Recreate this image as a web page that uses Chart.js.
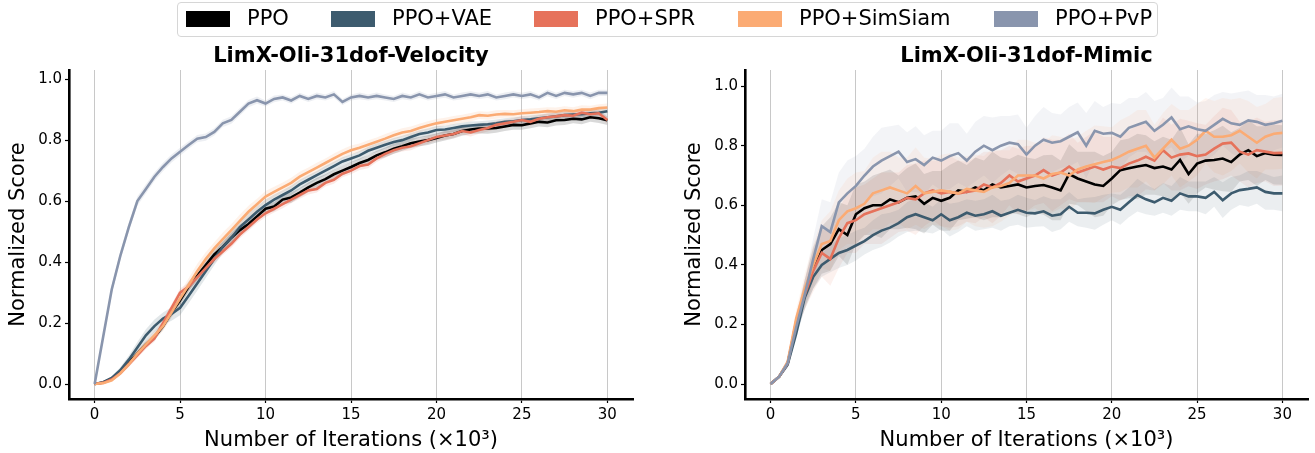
<!DOCTYPE html>
<html>
<head>
<meta charset="utf-8">
<script src="https://cdn.jsdelivr.net/npm/chart.js@4.4.0/dist/chart.umd.min.js"></script>
<style>
  body { margin: 0; background: #fff; }
  #wrap { position: relative; width: 1315px; height: 453px; font-family: "DejaVu Sans", sans-serif; }
  canvas { position: absolute; top: 0; }
  #legend {
    position: absolute; left: 177px; top: 2px; width: 981px; height: 35px;
    border: 1px solid #d6d6d6; border-radius: 4px; box-sizing: border-box;
  }
  .sw { position: absolute; top: 8px; width: 44px; height: 16px; }
  .lbl { position: absolute; top: 5px; font-size: 21px; line-height: 21px; color: #000; white-space: nowrap; }
</style>
</head>
<body>
<div id="wrap">
  <canvas id="vel" width="650" height="453" style="left:0"></canvas>
  <canvas id="mim" width="639" height="453" style="left:676px"></canvas>
  <div id="legend"></div>
</div>
<script>
// series names and colours
const seriesNames = ['PPO', 'PPO+VAE', 'PPO+SPR', 'PPO+SimSiam', 'PPO+PvP'];
const seriesColors = ['#000000', '#3d5b6e', '#e6725b', '#fbab74', '#8995ad'];

// x axis: iterations (x10^3)
const iters = [
  0, 0.5, 1, 1.5, 2, 2.5, 3, 3.5, 4, 4.5,
  5, 5.5, 6, 6.5, 7, 7.5, 8, 8.5, 9, 9.5,
  10, 10.5, 11, 11.5, 12, 12.5, 13, 13.5, 14, 14.5,
  15, 15.5, 16, 16.5, 17, 17.5, 18, 18.5, 19, 19.5,
  20, 20.5, 21, 21.5, 22, 22.5, 23, 23.5, 24, 24.5,
  25, 25.5, 26, 26.5, 27, 27.5, 28, 28.5, 29, 29.5,
  30
];
const xTicks = [0, 5, 10, 15, 20, 25, 30];
const yTicks = [0, 0.2, 0.4, 0.6, 0.8, 1.0];

// ---- LimX-Oli-31dof-Velocity ----
const velPpo = [
  0, .005, .018, .04, .07, .10, .13, .155, .19, .235,
  .275, .32, .355, .39, .425, .45, .48, .505, .525, .55,
  .575, .582, .605, .612, .628, .645, .66, .672, .688, .70,
  .712, .725, .735, .75, .76, .772, .78, .79, .795, .80,
  .807, .815, .82, .83, .835, .838, .838, .84, .845, .85,
  .849, .855, .86, .858, .865, .866, .87, .868, .875, .872,
  .865
];
const velVae = [
  0, .006, .02, .045, .08, .12, .16, .19, .215, .23,
  .25, .29, .33, .37, .41, .45, .48, .515, .54, .565,
  .587, .605, .62, .635, .655, .67, .685, .70, .715, .73,
  .74, .75, .765, .775, .785, .794, .80, .81, .82, .825,
  .833, .835, .84, .845, .848, .85, .852, .855, .86, .862,
  .866, .868, .872, .875, .878, .882, .884, .885, .888, .89,
  .895
];
const velSpr = [
  0, .004, .015, .035, .065, .095, .125, .15, .20, .25,
  .30, .32, .35, .38, .41, .435, .46, .49, .515, .54,
  .56, .575, .59, .605, .62, .635, .64, .66, .67, .69,
  .70, .715, .72, .74, .755, .767, .775, .78, .79, .80,
  .81, .815, .82, .83, .825, .833, .84, .85, .855, .86,
  .866, .86, .87, .875, .878, .882, .88, .89, .885, .888,
  .866
];
const velSim = [
  0, .003, .012, .035, .065, .10, .13, .16, .19, .235,
  .28, .325, .37, .41, .445, .475, .505, .535, .565, .59,
  .615, .63, .645, .66, .68, .695, .71, .725, .74, .755,
  .767, .775, .785, .795, .805, .816, .825, .83, .84, .848,
  .855, .86, .865, .87, .875, .882, .88, .884, .886, .885,
  .888, .89, .892, .895, .893, .898, .895, .90, .90, .905,
  .907
];
const velPvp = [
  0, .155, .31, .42, .515, .60, .64, .68, .712, .74,
  .762, .784, .805, .81, .827, .855, .866, .893, .92, .931,
  .92, .935, .94, .93, .945, .935, .945, .94, .95, .925,
  .94, .945, .94, .945, .94, .935, .945, .94, .95, .94,
  .945, .95, .94, .945, .95, .945, .95, .94, .945, .95,
  .945, .95, .94, .955, .945, .955, .95, .955, .945, .955,
  .955
];
// spread (std) of each velocity series
const velPpoSd = [
  0, .002, .004, .006, .008, .01, .01, .012, .012, .014,
  .014, .016, .015, .016, .018, .017, .016, .018, .017, .016,
  .016, .015, .016, .017, .015, .016, .017, .016, .015, .016,
  .016, .015, .016, .015, .016, .017, .015, .016, .015, .016,
  .015, .016, .015, .016, .015, .016, .017, .016, .015, .016,
  .015, .016, .015, .016, .017, .016, .015, .016, .015, .016,
  .015
];
const velVaeSd = [
  0, .003, .006, .01, .014, .018, .02, .022, .02, .022,
  .024, .025, .024, .022, .02, .021, .02, .019, .02, .018,
  .018, .017, .016, .016, .015, .015, .014, .015, .014, .014,
  .013, .014, .013, .014, .013, .013, .014, .013, .012, .013,
  .013, .012, .013, .012, .013, .012, .012, .013, .012, .012,
  .012, .013, .012, .012, .013, .012, .012, .013, .012, .012,
  .012
];
const velSprSd = [
  0, .002, .004, .006, .008, .01, .01, .011, .012, .012,
  .013, .012, .013, .012, .013, .012, .013, .012, .012, .013,
  .012, .012, .013, .012, .012, .013, .012, .012, .013, .012,
  .012, .013, .012, .012, .013, .012, .012, .013, .012, .012,
  .012, .013, .012, .012, .013, .012, .012, .013, .012, .012,
  .012, .013, .012, .012, .013, .012, .012, .013, .012, .012,
  .012
];
const velSimSd = [
  0, .002, .005, .008, .01, .012, .014, .015, .016, .018,
  .02, .022, .024, .022, .02, .022, .02, .021, .02, .018,
  .018, .017, .016, .017, .016, .015, .016, .015, .016, .015,
  .015, .014, .015, .014, .015, .014, .014, .015, .014, .014,
  .014, .013, .014, .013, .014, .013, .013, .014, .013, .013,
  .013, .014, .013, .013, .014, .013, .013, .014, .013, .013,
  .013
];
const velPvpSd = [
  0, .01, .015, .015, .015, .015, .015, .014, .014, .013,
  .013, .012, .012, .012, .012, .012, .012, .012, .012, .012,
  .01, .011, .01, .011, .01, .01, .011, .01, .011, .01,
  .01, .011, .01, .011, .01, .01, .011, .01, .011, .01,
  .01, .011, .01, .011, .01, .01, .011, .01, .011, .01,
  .01, .011, .01, .011, .01, .01, .011, .01, .011, .01,
  .01
];

// ---- LimX-Oli-31dof-Mimic ----
const mimPpo = [
  0, .025, .07, .20, .30, .39, .45, .47, .52, .50,
  .57, .59, .60, .60, .62, .61, .625, .63, .605, .625,
  .615, .625, .65, .645, .66, .65, .67, .66, .665, .67,
  .66, .665, .668, .66, .65, .705, .69, .68, .67, .665,
  .69, .718, .724, .73, .735, .725, .73, .72, .752, .705,
  .74, .75, .752, .757, .745, .77, .785, .765, .775, .77,
  .769
];
const mimVae = [
  0, .025, .065, .17, .29, .36, .40, .42, .44, .45,
  .465, .48, .50, .515, .525, .54, .56, .57, .56, .55,
  .57, .55, .56, .575, .565, .57, .58, .565, .575, .585,
  .575, .573, .58, .565, .57, .595, .575, .575, .573, .585,
  .595, .585, .61, .634, .62, .61, .625, .615, .64, .63,
  .63, .625, .645, .617, .64, .651, .655, .66, .645, .64,
  .64
];
const mimSpr = [
  0, .025, .07, .21, .30, .38, .44, .42, .49, .54,
  .55, .57, .58, .59, .60, .61, .625, .62, .64, .65,
  .64, .645, .64, .645, .65, .67, .66, .675, .70, .68,
  .69, .70, .718, .70, .71, .73, .71, .72, .73, .72,
  .73, .725, .74, .75, .763, .75, .785, .76, .77, .774,
  .765, .77, .79, .807, .81, .78, .77, .785, .78, .775,
  .776
];
const mimSim = [
  0, .025, .075, .22, .32, .40, .47, .48, .55, .58,
  .59, .605, .64, .65, .66, .65, .64, .665, .64, .645,
  .65, .645, .64, .655, .65, .645, .66, .665, .675, .70,
  .70, .70, .69, .705, .71, .70, .72, .73, .738, .745,
  .752, .765, .78, .79, .80, .76, .79, .82, .79, .80,
  .82, .85, .83, .83, .835, .85, .83, .81, .83, .84,
  .843
];
const mimPvp = [
  0, .025, .07, .19, .30, .42, .53, .51, .61, .64,
  .665, .70, .73, .75, .765, .78, .745, .755, .735, .76,
  .75, .765, .775, .75, .78, .80, .785, .80, .81, .805,
  .77, .80, .82, .81, .815, .83, .845, .80, .85, .84,
  .843, .83, .86, .87, .88, .85, .87, .895, .855, .865,
  .855, .85, .87, .89, .875, .87, .885, .88, .87, .875,
  .884
];
const mimPpoSd = [
  0, .005, .01, .03, .05, .07, .08, .09, .09, .1,
  .1, .09, .1, .11, .1, .09, .1, .11, .1, .09,
  .1, .11, .1, .09, .1, .1, .11, .1, .09, .1,
  .1, .09, .1, .11, .1, .1, .09, .1, .11, .1,
  .09, .1, .1, .11, .1, .09, .1, .1, .11, .1,
  .1, .09, .1, .11, .1, .09, .1, .1, .09, .1,
  .1
];
const mimVaeSd = [
  0, .005, .01, .02, .03, .04, .04, .045, .05, .05,
  .05, .045, .05, .055, .05, .045, .05, .055, .05, .045,
  .05, .055, .05, .045, .05, .05, .055, .05, .045, .05,
  .05, .045, .05, .055, .05, .05, .045, .05, .055, .05,
  .045, .05, .05, .055, .05, .045, .05, .05, .055, .05,
  .05, .055, .05, .06, .055, .05, .06, .055, .06, .055,
  .06
];
const mimSprSd = [
  0, .005, .01, .03, .05, .07, .08, .09, .1, .1,
  .11, .1, .11, .12, .11, .1, .11, .12, .11, .1,
  .11, .12, .11, .1, .11, .11, .12, .11, .1, .11,
  .11, .1, .11, .12, .11, .11, .1, .11, .12, .11,
  .1, .11, .11, .12, .11, .1, .11, .11, .12, .11,
  .11, .1, .11, .12, .11, .1, .11, .11, .1, .11,
  .11
];
const mimSimSd = [
  0, .005, .01, .03, .05, .07, .08, .1, .1, .11,
  .12, .11, .12, .13, .12, .11, .12, .13, .12, .11,
  .12, .13, .12, .11, .12, .12, .13, .12, .11, .12,
  .12, .11, .12, .13, .12, .12, .11, .12, .13, .12,
  .11, .12, .12, .13, .12, .11, .12, .12, .13, .12,
  .12, .11, .12, .13, .12, .11, .12, .12, .11, .12,
  .12
];
const mimPvpSd = [
  0, .005, .01, .03, .05, .07, .09, .1, .1, .11,
  .1, .09, .1, .11, .1, .09, .1, .11, .1, .09,
  .1, .11, .1, .09, .1, .1, .11, .1, .09, .1,
  .09, .1, .11, .1, .09, .1, .1, .11, .1, .09,
  .1, .11, .1, .09, .1, .1, .09, .1, .11, .1,
  .09, .1, .1, .09, .1, .11, .1, .09, .1, .09,
  .09
];

// legend swatch positions (page px, relative to legend box)
const legendLefts = [8, 153, 356, 560, 816];

function rgba(hex, a) {
  const n = parseInt(hex.slice(1), 16);
  return `rgba(${(n >> 16) & 255},${(n >> 8) & 255},${n & 255},${a})`;
}

function pts(vals) {
  return vals.map((v, i) => ({ x: iters[i], y: v }));
}

// build datasets: band (upper, lower filled) + mean line per series
function buildDatasets(means, sds, bandAlpha) {
  const ds = [];
  means.forEach((m, k) => {
    const col = seriesColors[k];
    ds.push({
      data: pts(m.map((v, i) => v + sds[k][i])),
      borderWidth: 0, pointRadius: 0, fill: false, order: 20 + k
    });
    ds.push({
      data: pts(m.map((v, i) => v - sds[k][i])),
      borderWidth: 0, pointRadius: 0, fill: '-1',
      backgroundColor: rgba(col, bandAlpha), order: 20 + k
    });
    ds.push({
      label: seriesNames[k],
      data: pts(m),
      borderColor: col, borderWidth: 2.6, pointRadius: 0,
      fill: false, tension: 0, order: 10 - k
    });
  });
  return ds;
}

const titlePlugin = {
  id: 'panelTitle',
  afterDraw(chart, args, opts) {
    const { ctx, chartArea } = chart;
    ctx.save();
    ctx.font = 'bold 21px "DejaVu Sans"';
    ctx.fillStyle = '#000';
    ctx.textAlign = 'center';
    ctx.textBaseline = 'alphabetic';
    ctx.fillText(opts.text, (chartArea.left + chartArea.right) / 2, 62);
    ctx.restore();
  }
};

function makeChart(id, means, sds, yMin, yMax, padRight, title, bandAlpha) {
  return new Chart(document.getElementById(id), {
    type: 'line',
    data: { datasets: buildDatasets(means, sds, bandAlpha) },
    plugins: [titlePlugin],
    options: {
      responsive: false,
      animation: false,
      layout: { padding: { top: 70, right: padRight, bottom: 0, left: 0 } },
      plugins: {
        legend: { display: false },
        tooltip: { enabled: false },
        panelTitle: { text: title }
      },
      scales: {
        x: {
          type: 'linear', min: -1.5, max: 31.5,
          afterBuildTicks: s => { s.ticks = xTicks.map(v => ({ value: v })); },
          afterFit: s => { s.height = 54; },
          grid: { color: '#c8c8c8', lineWidth: 1, tickColor: '#000', tickLength: 4, tickWidth: 1.2 },
          border: { color: '#000', width: 2.6 },
          ticks: { autoSkip: false, maxRotation: 0, padding: 3, color: '#000',
                   font: { family: 'DejaVu Sans', size: 15 }, callback: v => String(v) },
          title: { display: true, text: 'Number of Iterations (×10³)', color: '#000',
                   font: { family: 'DejaVu Sans', size: 21 }, padding: { top: 0, bottom: 0 } }
        },
        y: {
          min: yMin, max: yMax,
          afterBuildTicks: s => { s.ticks = yTicks.map(v => ({ value: v })); },
          afterFit: s => { s.width = 69; },
          grid: { drawOnChartArea: false, tickColor: '#000', tickLength: 4, tickWidth: 1.2 },
          border: { color: '#000', width: 2.6 },
          ticks: { autoSkip: false, padding: 3, color: '#000',
                   font: { family: 'DejaVu Sans', size: 15 }, callback: v => v.toFixed(1) },
          title: { display: true, text: 'Normalized Score', color: '#000',
                   font: { family: 'DejaVu Sans', size: 21 }, padding: { top: 6, bottom: 0 } }
        }
      }
    }
  });
}

makeChart('vel', [velPpo, velVae, velSpr, velSim, velPvp],
  [velPpoSd, velVaeSd, velSprSd, velSimSd, velPvpSd], -0.049, 1.03, 17, 'LimX-Oli-31dof-Velocity', 0.15);
makeChart('mim', [mimPpo, mimVae, mimSpr, mimSim, mimPvp],
  [mimPpoSd, mimVaeSd, mimSprSd, mimSimSd, mimPvpSd], -0.05, 1.054, 7, 'LimX-Oli-31dof-Mimic', 0.1);

// shared legend
const legend = document.getElementById('legend');
seriesNames.forEach((name, k) => {
  const sw = document.createElement('div');
  sw.className = 'sw';
  sw.style.left = legendLefts[k] + 'px';
  sw.style.background = seriesColors[k];
  const txt = document.createElement('div');
  txt.className = 'lbl';
  txt.style.left = (legendLefts[k] + 61) + 'px';
  txt.textContent = name;
  legend.appendChild(sw);
  legend.appendChild(txt);
});
</script>
</body>
</html>
